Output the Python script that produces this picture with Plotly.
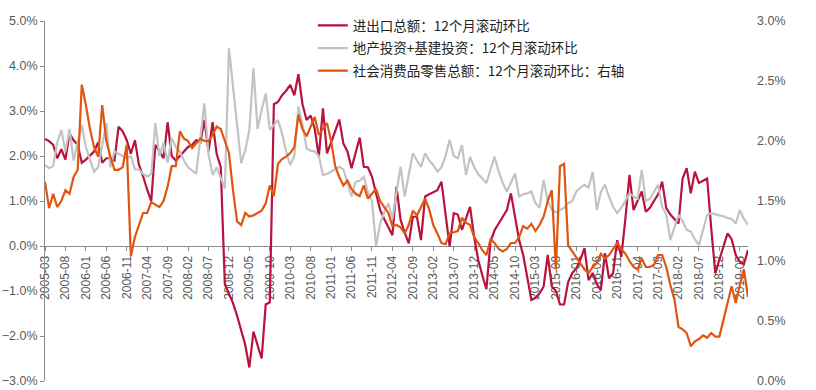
import pandas as pd
import plotly.graph_objects as go

# Monthly categories 2005-03 .. 2019-07
months = [p.strftime("%Y-%m") for p in pd.period_range("2005-03", "2019-07", freq="M")]
tick_labels = months[::5]

# 进出口总额：12个月滚动环比 (left axis, %)
trade = [
    2.38, 2.33, 2.25, 1.95, 2.15, 1.92, 2.50, 2.35, 2.25, 1.85,
    1.92, 2.00, 2.10, 2.30, 1.85, 1.95, 1.95, 1.90, 2.65, 2.55,
    2.35, 2.05, 2.35, 1.80, 1.55, 1.25, 1.00, 2.25, 2.10, 1.95,
    2.75, 2.00, 1.90, 2.00, 2.10, 2.20, 2.25, 2.35, 2.30, 2.80,
    2.10, 2.75, 2.05, 1.75, -0.85, -1.05, -1.27, -1.55, -1.85, -2.20,
    -2.70, -1.90, -2.20, -2.50, -1.30, -1.25, 3.15, 3.20, 3.35, 3.45,
    3.58, 3.35, 3.82, 3.15, 2.80, 2.90, 2.60, 1.98, 3.06, 2.06,
    2.30, 2.55, 2.81, 2.28, 2.10, 1.73, 2.10, 2.41, 1.76, 1.75,
    1.54, 1.17, 0.80, 0.60, 0.40, 0.24, 1.32, 0.58, 0.30, 0.06,
    0.65, 0.65, 0.13, 1.10, 1.15, 1.20, 1.24, 1.43, 0.65, -0.01,
    0.73, 0.70, 0.36, 0.60, 0.87, 0.20, -0.31, -0.65, -0.96, 0.10,
    0.35, 0.50, 0.65, 0.80, 1.17, 0.60, 0.13, -0.20, -0.70, -1.20,
    -1.15, -1.05, -0.90, -0.20, -0.90, -1.00, -1.30, -1.30, -0.80, -0.60,
    -0.50, -0.30, -0.05, -0.76, -0.60, -0.85, -0.98, -0.16, -0.72, -0.60,
    0.13, -0.24, 0.60, 1.58, 0.80, 1.00, 1.21, 0.76, 0.85, 1.00,
    1.15, 1.43, 0.84, 0.70, 0.60, 0.50, 1.50, 1.73, 1.17, 1.65,
    1.40, 1.45, 1.50, 0.40, -0.61, -0.30, 0.00, 0.28, 0.15, -0.20,
    -0.35, -0.40, -0.09,
]

# 地产投资+基建投资：12个月滚动环比 (left axis, %)
invest = [
    1.80, 1.73, 1.78, 2.30, 2.58, 2.10, 2.60, 1.90, 2.30, 2.69,
    2.20, 1.90, 1.65, 1.75, 2.20, 2.73, 1.75, 2.10, 2.05, 2.00,
    1.95, 2.00, 1.70, 1.70, 1.60, 1.54, 1.60, 2.73, 2.00, 2.30,
    1.85, 2.40, 2.20, 2.10, 1.90, 1.75, 1.68, 1.61, 2.40, 3.17,
    2.05, 1.58, 1.75, 1.50, 1.28, 4.39, 3.50, 2.70, 1.84, 2.13,
    2.58, 3.95, 2.60, 3.02, 3.39, 2.58, 2.70, 2.80, 2.50, 2.10,
    1.80, 2.00, 3.10, 2.70, 2.17, 2.12, 2.10, 2.00, 1.58, 1.60,
    1.65, 1.70, 1.76, 1.70, 1.40, 1.10, 1.43, 1.45, 1.54, 1.20,
    1.00, 0.00, 0.50, 0.75, 0.95, 0.60, 1.20, 1.76, 1.10, 1.60,
    2.06, 1.90, 1.76, 2.06, 1.90, 1.80, 1.65, 1.75, 2.00, 2.36,
    2.00, 1.95, 2.24, 1.58, 1.98, 1.75, 1.60, 1.50, 1.40, 1.70,
    1.98, 1.65, 1.40, 1.21, 1.40, 1.61, 1.10, 1.15, 1.17, 1.21,
    0.95, 0.85, 1.47, 1.00, 0.80, 0.75, 0.80, 0.85, 0.95, 1.00,
    1.21, 1.30, 1.36, 1.30, 1.65, 0.80, 1.20, 1.36, 1.10, 0.87,
    0.73, 0.85, 1.00, 1.17, 1.10, 1.05, 1.69, 1.00, 1.05, 1.20,
    1.36, 0.87, 0.70, 0.13, 0.43, 0.69, 0.55, 0.36, 0.32, 0.15,
    0.02, 0.36, 0.69, 0.73, 0.70, 0.68, 0.66, 0.62, 0.60, 0.50,
    0.80, 0.60, 0.47,
]

# 社会消费品零售总额：12个月滚动环比 (right axis, %)
retail = [
    1.66, 1.44, 1.56, 1.45, 1.50, 1.59, 1.56, 1.70, 1.76, 2.47,
    2.30, 2.10, 1.95, 1.87, 2.30, 2.00, 1.87, 1.76, 1.76, 1.78,
    1.97, 1.04, 1.20, 1.30, 1.40, 1.40, 1.49, 1.47, 1.45, 1.50,
    1.62, 1.79, 1.79, 2.08, 2.02, 2.00, 1.94, 1.98, 2.02, 2.00,
    2.00, 2.05, 2.12, 2.10, 1.99, 1.90, 1.59, 1.33, 1.30, 1.40,
    1.37, 1.38, 1.40, 1.42, 1.48, 1.63, 1.54, 1.81, 1.85, 1.87,
    1.90, 1.95, 2.22, 2.10, 2.04, 2.12, 2.20, 2.05, 2.10, 2.15,
    2.00, 1.79, 1.70, 1.63, 1.67, 1.60, 1.56, 1.54, 1.63, 1.52,
    1.56, 1.60, 1.50, 1.45, 1.40, 1.29, 1.30, 1.28, 1.23, 1.30,
    1.42, 1.38, 1.45, 1.52, 1.43, 1.30, 1.23, 1.15, 1.14, 1.23,
    1.24, 1.25, 1.36, 1.32, 1.30, 1.20, 1.15, 1.09, 1.05, 1.18,
    1.15, 1.10, 1.08, 1.10, 1.15, 1.15, 1.20, 1.29, 1.27, 1.31,
    1.25, 1.30, 1.37, 1.50, 1.59, 0.93, 1.79, 1.81, 1.13, 1.08,
    1.03, 0.98, 0.93, 0.90, 0.95, 0.98, 1.06, 1.02, 1.05, 1.10,
    1.15, 1.10, 1.06, 1.00, 0.95, 0.93, 1.02, 0.95, 0.95, 0.97,
    1.05, 1.05, 0.95, 0.80, 0.68, 0.45, 0.43, 0.40, 0.29, 0.33,
    0.35, 0.38, 0.36, 0.40, 0.37, 0.37, 0.50, 0.65, 0.79, 0.65,
    0.80, 0.93, 0.70,
]

names = [
    "进出口总额：12个月滚动环比",
    "地产投资+基建投资：12个月滚动环比",
    "社会消费品零售总额：12个月滚动环比：右轴",
]
colors = ["#B8123E", "#C3C3C3", "#E0550F"]

fig = go.Figure()
fig.add_trace(go.Scatter(x=months, y=trade, name=names[0], mode="lines",
                         line=dict(color=colors[0], width=2.2), yaxis="y", legendgroup="a"))
fig.add_trace(go.Scatter(x=months, y=invest, name=names[1], mode="lines",
                         line=dict(color=colors[1], width=2.2), yaxis="y", legendgroup="b"))
fig.add_trace(go.Scatter(x=months, y=retail, name=names[2], mode="lines",
                         line=dict(color=colors[2], width=2.2), yaxis="y2", legendgroup="c"))

tick_font = dict(family="Liberation Sans, Arial, sans-serif", size=12.5, color="#595959")

fig.update_layout(
    width=816, height=390,
    margin=dict(l=45, r=68, t=21, b=9, autoexpand=False),
    paper_bgcolor="white", plot_bgcolor="white",
    showlegend=True,
    legend=dict(x=0.381, y=1.030, xanchor="left", yanchor="top",
                bgcolor="rgba(0,0,0,0)", tracegroupgap=2,
                font=dict(family="Noto Sans CJK SC", size=13.5, color="#222222")),
    xaxis=dict(type="category", range=[0, len(months) - 1],
               anchor="free", position=3 / 8,
               showline=True, linecolor="#8C8C8C", linewidth=1,
               tickmode="array", tickvals=tick_labels, ticktext=tick_labels,
               ticks="outside", ticklen=4, tickcolor="#8C8C8C",
               tickangle=-90, tickfont=dict(family="Liberation Sans, Arial, sans-serif", size=12, color="#595959"),
               showgrid=False, zeroline=False, layer="below traces"),
    yaxis=dict(range=[-3, 5], dtick=1, tickformat=".1f", ticksuffix="%",
               showline=True, linecolor="#8C8C8C", linewidth=1,
               ticks="outside", ticklen=4, tickcolor="#8C8C8C",
               showgrid=False, zeroline=False, tickfont=tick_font),
    yaxis2=dict(range=[0, 3], dtick=0.5, tickformat=".1f", ticksuffix="%",
                overlaying="y", side="right", showline=False, ticks="", ticklen=0,
                ticklabelstandoff=8,
                showgrid=False, zeroline=False, tickfont=tick_font),
)

fig.write_html(
    "out.html",
    config={"displayModeBar": False},
    post_script="document.body.style.margin='0';document.body.style.overflow='hidden';",
)
